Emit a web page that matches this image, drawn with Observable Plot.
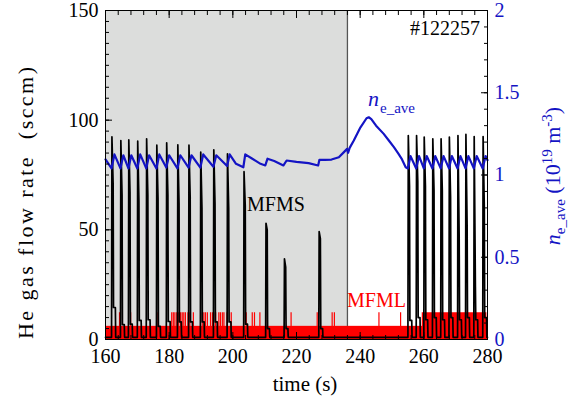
<!DOCTYPE html>
<html><head><meta charset="utf-8">
<script src="https://cdn.jsdelivr.net/npm/d3@7"></script>
<script src="https://cdn.jsdelivr.net/npm/@observablehq/plot@0.6"></script>
<style>
body{margin:0;background:#fff}
svg, svg text, svg tspan{font-family:"Liberation Serif","DejaVu Serif",serif !important}
</style>
</head><body><div id="chart"></div>
<script>
// ---- data ----
const timeDomain = [160, 280];
const flowDomain = [0, 150];
const neMax = 2;                       // right axis top (10^19 m^-3)
const shadeRange = [160, 236];         // grey shaded interval
const xTicks = [160, 180, 200, 220, 240, 260, 280];
const yLeftTicks = [0, 50, 100, 150];
const yRightTicks = [0, 0.5, 1, 1.5, 2];

// MFMS pulses: start time, peak, level after first drop, small hump after pulse
const mfmsTime = [161.9,164.7,167.2,170.0,172.8,176.0,179.1,182.6,186.1,189.8,193.9,198.2,203.4,210.3,216.1,227.0,
                  255.0,257.6,260.0,262.7,265.3,267.9,270.6,273.1,275.7,278.5];
const mfmsPeak = [92.4,90.7,91.0,90.4,91.5,88.6,89.7,88.8,88.6,85.4,86.5,84.7,76.5,53.0,36.8,49.2,
                  93.0,93.0,92.3,91.5,91.5,92.3,93.0,93.5,92.5,92.5];
const mfmsMid  = [71,66,67,63,66,64,66,62,65,60,62,60,61,50,33,46,
                  70,72,70,68,68,65,47,52,24,60];
const mfmsHump = [14.6,6.8,7,8.7,9,6,8.2,8,8,8,8,8,7,5,5,5,
                  8.7,10,9,10,9,10,9,10,9,10];
const mfmsBase = 1;

// line-averaged density n_e_ave (10^19 m^-3)
const neTime = [160.0,161.9,162.8,164.7,165.6,167.2,168.1,170.0,170.9,172.8,173.7,176.0,176.9,179.1,180.0,182.6,183.5,
  186.1,187.0,189.8,190.7,193.9,194.8,198.2,199.0,201.0,203.3,203.9,206.0,208.7,210.2,210.9,213.0,215.9,216.9,220.0,
  223.8,226.8,227.2,229.0,231.0,233.3,234.9,235.9,236.2,236.7,238.0,240.1,242.0,242.7,243.5,245.0,247.4,249.0,250.6,
  252.0,253.0,254.3,255.0,255.8,257.6,258.5,260.0,260.9,262.7,263.6,265.3,266.2,267.9,268.8,270.6,271.5,273.1,274.0,
  275.7,276.6,278.5,279.4,280.0];
const neValue = [1.095,1.040,1.125,1.040,1.120,1.040,1.120,1.040,1.125,1.040,1.120,1.040,1.125,1.045,1.120,1.040,1.120,
  1.045,1.120,1.045,1.125,1.050,1.120,1.055,1.125,1.068,1.047,1.125,1.100,1.068,1.058,1.099,1.085,1.058,1.088,1.080,
  1.072,1.058,1.092,1.092,1.094,1.108,1.139,1.159,1.135,1.165,1.210,1.290,1.345,1.351,1.340,1.300,1.250,1.210,1.169,
  1.130,1.100,1.047,1.040,1.115,1.040,1.115,1.040,1.115,1.040,1.115,1.040,1.115,1.040,1.115,1.040,1.115,1.040,1.115,
  1.040,1.115,1.040,1.115,1.090];

// MFML: continuous low band + taller individual pulses
const mfmlBandLevel = 6;
const mfmlSpikeLevel = 12.2;
const mfmlSpikeTimes = [164.4,167.9,176.2,180.8,181.3,181.8,182.4,183.0,183.6,184.1,184.6,185.1,185.9,186.5,187.6,
  190.4,190.9,191.4,192.0,193.0,193.6,194.0,194.6,195.6,196.1,196.7,197.2,198.2,199.5,203.4,204.2,206.1,206.8,
  208.5,210.3,218.3,226.5,231.2,231.9,245.9,252.7];
const mfmlBlock = [259.5, 279.8];

// ---- build tables ----
const k = flowDomain[1] / neMax;
const mfms = [{t: timeDomain[0], v: mfmsBase}];
mfmsTime.forEach((t0, i) => {
  mfms.push({t: t0, v: mfmsBase}, {t: t0 + 0.12, v: mfmsPeak[i]}, {t: t0 + 0.5, v: mfmsMid[i]},
            {t: t0 + 0.62, v: mfmsHump[i]}, {t: t0 + 1.2, v: mfmsHump[i]}, {t: t0 + 1.3, v: mfmsBase});
});
mfms.push({t: timeDomain[1], v: mfmsBase});
const ne = neTime.map((t, i) => ({t, n: neValue[i]}));

const blue = "#1414c4";
const serif = '"Liberation Serif", "DejaVu Serif", serif';
const minorX = d3.range(160, 281, 4);
const minorYL = d3.range(0, 151, 5);
const minorYR = d3.range(0, 21).map(i => i * 0.1 * k);

const plot = Plot.plot({
  width: 572, height: 409,
  marginLeft: 105, marginRight: 85, marginTop: 10, marginBottom: 70,
  x: {domain: timeDomain},
  y: {domain: flowDomain},
  style: {fontFamily: serif, fontSize: "20px", background: "#fff", color: "#000"},
  marks: [
    Plot.rect([shadeRange], {x1: d => d[0], x2: d => d[1], y1: flowDomain[0], y2: flowDomain[1], fill: "#dcdddc"}),
    Plot.ruleX([shadeRange[1]], {stroke: "#555", strokeWidth: 1.3}),
    Plot.rect([timeDomain], {x1: d => d[0], x2: d => d[1], y1: 0, y2: mfmlBandLevel, fill: "#ff0000"}),
    Plot.rect([mfmlBlock], {x1: d => d[0], x2: d => d[1], y1: 0, y2: mfmlSpikeLevel, fill: "#ff0000"}),
    Plot.ruleX(mfmlSpikeTimes, {x: d => d, y1: 0, y2: mfmlSpikeLevel, stroke: "#ff0000", strokeWidth: 1.2}),
    Plot.line(mfms, {x: "t", y: "v", stroke: "#000", strokeWidth: 1.7}),
    Plot.line(ne, {x: "t", y: d => d.n * k, stroke: blue, strokeWidth: 2.2}),
    Plot.frame({stroke: "#000", strokeWidth: 1}),
    // axes: labels
    Plot.axisX(xTicks, {tickSize: 0, tickPadding: 9, label: null, fontSize: 20, fontFamily: serif}),
    Plot.axisY(yLeftTicks, {tickSize: 0, tickPadding: 7, label: null, fontSize: 20, fontFamily: serif}),
    Plot.axisY(yRightTicks.map(d => d * k), {anchor: "right", tickSize: 0, tickPadding: 7, label: null, fontSize: 20,
      fontFamily: serif, fill: blue, tickFormat: d => String(+(d / k).toFixed(2))}),
    // inward ticks
    Plot.axisX(minorX, {tickSize: -4, fill: "none", label: null}),
    Plot.axisX(xTicks, {tickSize: -7, fill: "none", label: null}),
    Plot.axisX(minorX, {anchor: "top", tickSize: -4, fill: "none", label: null}),
    Plot.axisX(xTicks, {anchor: "top", tickSize: -7, fill: "none", label: null}),
    Plot.axisY(minorYL, {tickSize: -4, fill: "none", label: null}),
    Plot.axisY(yLeftTicks, {tickSize: -7, fill: "none", label: null}),
    Plot.axisY(minorYR, {anchor: "right", tickSize: -4, fill: "none", label: null}),
    Plot.axisY(yRightTicks.map(d => d * k), {anchor: "right", tickSize: -7, fill: "none", label: null})
  ]
});
document.getElementById("chart").appendChild(plot);

const svg = d3.select(plot);
const g = svg.append("g").attr("font-family", serif).attr("text-anchor", "start");
// left axis title
g.append("text").attr("transform", "translate(33,203) rotate(-90)").attr("text-anchor", "middle")
  .attr("font-size", 22).attr("textLength", 272).attr("lengthAdjust", "spacing")
  .style("white-space", "pre").text("He gas flow rate  (sccm)");
// bottom axis title
g.append("text").attr("x", 305).attr("y", 391).attr("text-anchor", "middle").attr("font-size", 21).text("time (s)");
// right axis title
const rt = g.append("text").attr("transform", "translate(560,176) rotate(-90)").attr("text-anchor", "middle")
  .attr("font-size", 22).attr("fill", blue).style("white-space", "pre");
rt.append("tspan").attr("font-style", "italic").text("n");
rt.append("tspan").attr("font-size", 15).attr("dy", 5).text("e_ave");
rt.append("tspan").attr("dy", -5).text(" (10");
rt.append("tspan").attr("font-size", 15).attr("dy", -8).text("19");
rt.append("tspan").attr("dy", 8).text(" m");
rt.append("tspan").attr("font-size", 15).attr("dy", -8).text("-3");
rt.append("tspan").attr("dy", 8).text(")");
// annotations
g.append("text").attr("x", 480).attr("y", 35).attr("text-anchor", "end").attr("font-size", 20).text("#122257");
g.append("text").attr("x", 247).attr("y", 211).attr("font-size", 20).text("MFMS");
g.append("text").attr("x", 347).attr("y", 307).attr("font-size", 20).attr("fill", "#ff0000").text("MFML");
const na = g.append("text").attr("x", 368).attr("y", 106).attr("font-size", 22).attr("fill", blue);
na.append("tspan").attr("font-style", "italic").text("n");
na.append("tspan").attr("font-size", 15).attr("dy", 7).attr("dx", 1).text("e_ave");
</script>
</body></html>
